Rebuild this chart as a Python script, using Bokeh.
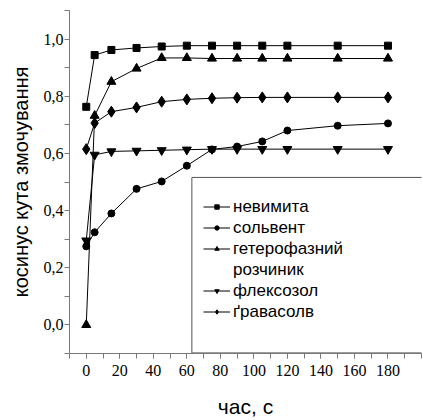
from bokeh.plotting import figure
from bokeh.models import (FixedTicker, Legend, LegendItem)
from bokeh.embed import file_html
from bokeh.resources import INLINE

# ---- data ----
time_s = [0, 5, 15, 30, 45, 60, 75, 90, 105, 120, 150, 180]
nevymyta = [0.763, 0.944, 0.962, 0.969, 0.974, 0.977, 0.977, 0.977, 0.977, 0.977, 0.977, 0.977]
solvent = [0.275, 0.324, 0.390, 0.476, 0.502, 0.557, 0.614, 0.624, 0.642, 0.680, 0.697, 0.705]
heterophase = [0.000, 0.732, 0.851, 0.897, 0.934, 0.934, 0.932, 0.932, 0.932, 0.932, 0.932, 0.932]
flexosol = [0.295, 0.595, 0.607, 0.609, 0.611, 0.613, 0.615, 0.615, 0.615, 0.615, 0.615, 0.615]
gravasolv = [0.615, 0.706, 0.746, 0.761, 0.781, 0.789, 0.793, 0.795, 0.796, 0.796, 0.796, 0.796]

x_ticks = [0, 20, 40, 60, 80, 100, 120, 140, 160, 180]
x_minor = list(range(-10, 201, 10))
y_ticks = [0.0, 0.2, 0.4, 0.6, 0.8, 1.0]
y_tick_labels = ["0,0", "0,2", "0,4", "0,6", "0,8", "1,0"]
y_minor = [-0.1, 0.1, 0.3, 0.5, 0.7, 0.9, 1.1]

# legend frame corners (data units): open on the right side
legend_frame_x = [320, 63, 63, 320]
legend_frame_y = [0.516, 0.516, -0.098, -0.098]

FONT = "Liberation Sans Narrow"
FONT2 = "Liberation Sans"
AX = "#7a7a7a"

p = figure(width=423, height=420, x_range=(-10, 200), y_range=(-0.1, 1.1),
           output_backend="svg", toolbar_location=None,
           min_border_left=69, min_border_right=2, min_border_top=10,
           min_border_bottom=67)
p.outline_line_color = None
p.grid.visible = False
p.background_fill_color = "white"
p.border_fill_color = "white"

# axes
xa = p.xaxis[0]
xa.ticker = FixedTicker(ticks=x_ticks, minor_ticks=x_minor)
ya = p.yaxis[0]
ya.ticker = FixedTicker(ticks=y_ticks, minor_ticks=y_minor)
ya.major_label_overrides = {t: l for t, l in zip(y_ticks, y_tick_labels)}
for ax in (xa, ya):
    ax.axis_line_color = AX
    ax.major_tick_line_color = AX
    ax.minor_tick_line_color = AX
    ax.major_tick_in = 0
    ax.major_tick_out = 5
    ax.minor_tick_in = 0
    ax.minor_tick_out = 5
    ax.major_label_text_font = FONT
    ax.major_label_text_font_size = "16px"
    ax.major_label_text_color = "black"
    ax.axis_label_text_font = FONT2
    ax.axis_label_text_font_style = "normal"
    ax.axis_label_text_color = "black"
    ax.axis_label_text_font_size = "21px"
xa.axis_label = "час, с"
ya.axis_label = "косинус кута змочування"
ya.axis_label_text_font_size = "20px"
xa.major_label_standoff = 6
ya.major_label_standoff = 1
xa.axis_label_standoff = 16
ya.axis_label_standoff = 9

# legend frame
p.line(legend_frame_x, legend_frame_y, line_color="#555555", line_width=1)

series = [
    ("невимита", nevymyta, "square", 7),
    ("сольвент", solvent, "circle", 7),
    ("гетерофазний", heterophase, "triangle", 9),
    ("флексозол", flexosol, "inverted_triangle", 9),
    ("ґравасолв", gravasolv, "diamond", 11),
]

items = []
for name, ys, marker, size in series:
    lr = p.line(time_s, ys, line_color="black", line_width=1)
    sr = p.scatter(time_s, ys, marker=marker, size=size,
                   fill_color="black", line_color="black")
    items.append(LegendItem(label=name, renderers=[lr, sr]))
    if name == "гетерофазний":
        dummy = p.line([], [], line_alpha=0)
        items.append(LegendItem(label="розчиник", renderers=[dummy]))

legend = Legend(items=items, location=(134, 31), border_line_color=None,
                background_fill_alpha=0, padding=0, margin=0, spacing=0,
                glyph_width=27, glyph_height=11, label_height=21,
                label_standoff=3, label_text_font=FONT2,
                label_text_font_size="17px", label_text_color="black")
p.add_layout(legend)

open("out.html", "w").write(file_html(p, INLINE))
